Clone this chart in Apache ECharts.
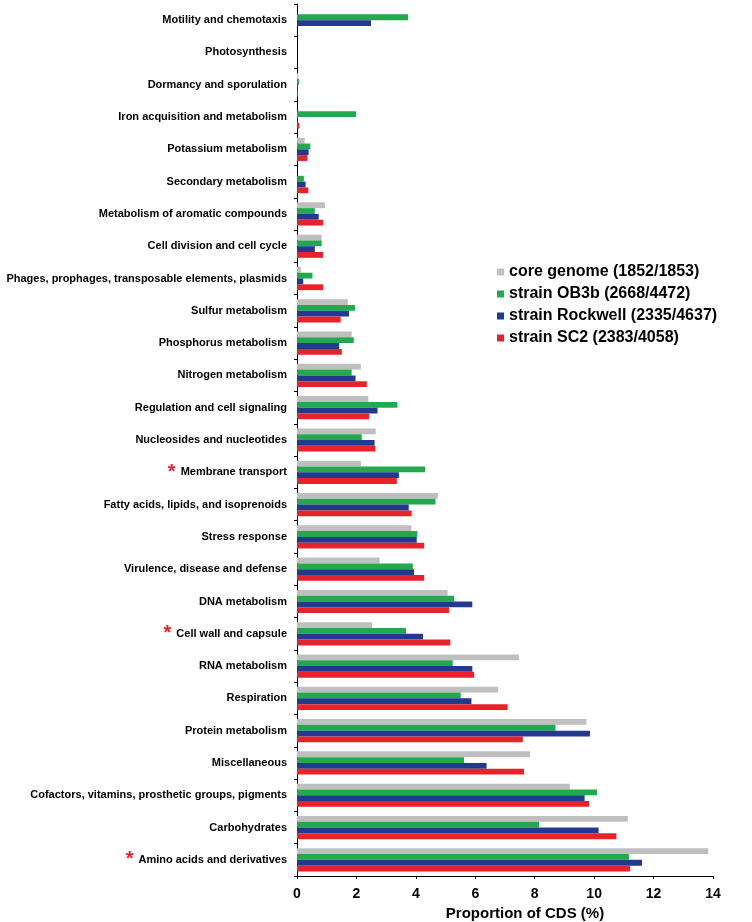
<!DOCTYPE html>
<html>
<head>
<meta charset="utf-8">
<script src="https://cdn.jsdelivr.net/npm/echarts@6/dist/echarts.min.js"></script>
<style>
html,body{margin:0;padding:0;background:#fff;}
#chart{width:752px;height:922px;}
</style>
</head>
<body>
<div id="chart"></div>
<script>
// Categories, top to bottom
var categories = [
  "Motility and chemotaxis",
  "Photosynthesis",
  "Dormancy and sporulation",
  "Iron acquisition and metabolism",
  "Potassium metabolism",
  "Secondary metabolism",
  "Metabolism of aromatic compounds",
  "Cell division and cell cycle",
  "Phages, prophages, transposable elements, plasmids",
  "Sulfur metabolism",
  "Phosphorus metabolism",
  "Nitrogen metabolism",
  "Regulation and cell signaling",
  "Nucleosides and nucleotides",
  "Membrane transport",
  "Fatty acids, lipids, and isoprenoids",
  "Stress response",
  "Virulence, disease and defense",
  "DNA metabolism",
  "Cell wall and capsule",
  "RNA metabolism",
  "Respiration",
  "Protein metabolism",
  "Miscellaneous",
  "Cofactors, vitamins, prosthetic groups, pigments",
  "Carbohydrates",
  "Amino acids and derivatives"
];
var starred = ["Membrane transport", "Cell wall and capsule", "Amino acids and derivatives"];

var seriesNames = [
  "core genome (1852/1853)",
  "strain OB3b (2668/4472)",
  "strain Rockwell (2335/4637)",
  "strain SC2 (2383/4058)"
];

var coreGenome = [0, 0, 0.04, 0, 0.26, 0, 0.94, 0.83, 0.13, 1.71, 1.84, 2.15, 2.40, 2.65, 2.15, 4.74, 3.85, 2.78, 5.07, 2.53, 7.47, 6.77, 9.74, 7.84, 9.18, 11.13, 13.84];
var strainOB3b = [3.74, 0, 0.07, 1.99, 0.45, 0.23, 0.60, 0.83, 0.52, 1.95, 1.91, 1.84, 3.38, 2.18, 4.31, 4.66, 4.05, 3.90, 5.29, 3.67, 5.24, 5.51, 8.70, 5.62, 10.10, 8.15, 11.17];
var strainRockwell = [2.49, 0, 0.03, 0.03, 0.39, 0.29, 0.73, 0.60, 0.21, 1.75, 1.42, 1.97, 2.71, 2.61, 3.43, 3.76, 4.03, 3.94, 5.90, 4.24, 5.90, 5.87, 9.86, 6.38, 9.68, 10.15, 11.61];
var strainSC2 = [0, 0, 0.03, 0.08, 0.35, 0.38, 0.88, 0.88, 0.88, 1.47, 1.51, 2.35, 2.43, 2.64, 3.36, 3.86, 4.28, 4.28, 5.12, 5.16, 5.96, 7.09, 7.60, 7.64, 9.83, 10.75, 11.21];

var xTicks = [0, 2, 4, 6, 8, 10, 12, 14];

var colors = ["#bfbfbf", "#22a84d", "#22398f", "#e8222a"];
var values = [coreGenome, strainOB3b, strainRockwell, strainSC2];

var FONT = 'Liberation Sans, Arial, sans-serif';
var chart = echarts.init(document.getElementById('chart'), null, {renderer: 'canvas'});

var series = seriesNames.map(function (n, i) {
  return {
    name: n,
    type: 'bar',
    data: values[i],
    barWidth: 5.8,
    barGap: '0%',
    itemStyle: {color: colors[i]},
    silent: true
  };
});

chart.setOption({
  animation: false,
  backgroundColor: '#ffffff',
  textStyle: {fontFamily: FONT},
  grid: {left: 297, right: 39, top: 4, bottom: 46, containLabel: false, outerBoundsMode: 'none'},
  legend: {
    orient: 'vertical',
    left: 492,
    top: 259,
    itemWidth: 7,
    itemHeight: 7,
    itemGap: 6,
    icon: 'rect',
    data: seriesNames,
    textStyle: {fontSize: 16, fontWeight: 'bold', color: '#000', lineHeight: 16, fontFamily: FONT}
  },
  xAxis: {
    type: 'value',
    min: xTicks[0],
    max: xTicks[xTicks.length - 1],
    interval: 2,
    name: 'Proportion of CDS (%)',
    nameLocation: 'middle',
    nameGap: 30,
    nameTextStyle: {fontSize: 15, fontWeight: 'bold', color: '#000', fontFamily: FONT, padding: [0, 0, 0, 40]},
    axisLine: {show: true, lineStyle: {color: '#000', width: 1}},
    axisTick: {show: true, inside: false, length: 3, lineStyle: {color: '#000'}},
    axisLabel: {fontSize: 14, fontWeight: 'bold', color: '#000', margin: 11, fontFamily: FONT},
    splitLine: {show: false}
  },
  yAxis: {
    type: 'category',
    inverse: true,
    data: categories,
    axisLine: {show: true, lineStyle: {color: '#000', width: 1}},
    axisTick: {show: true, inside: false, length: 3, alignWithLabel: false, lineStyle: {color: '#000'}},
    axisLabel: {
      fontSize: 11,
      fontWeight: 'bold',
      color: '#000',
      margin: 10,
      interval: 0,
      fontFamily: FONT,
      formatter: function (v) {
        if (starred.indexOf(v) >= 0) {
          return '{star|*}{lab|' + v + '}';
        }
        return v;
      },
      rich: {
        star: {color: '#e8222a', fontSize: 20, fontWeight: 'bold', padding: [0, 5, 0, 0], verticalAlign: 'middle', fontFamily: FONT},
        lab: {fontSize: 11, fontWeight: 'bold', color: '#000', fontFamily: FONT}
      }
    }
  },
  series: series
});
</script>
</body>
</html>
